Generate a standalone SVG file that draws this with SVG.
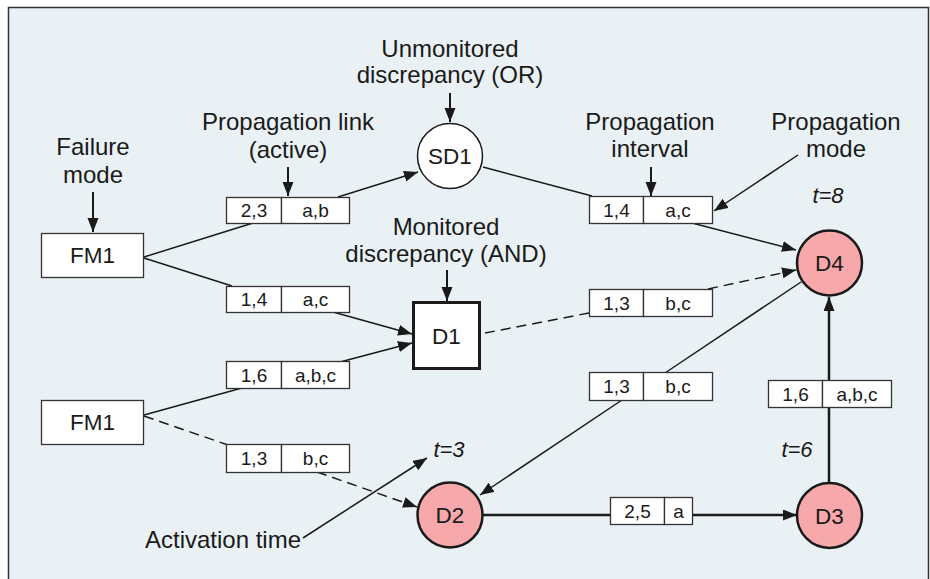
<svg xmlns="http://www.w3.org/2000/svg" width="930" height="579" viewBox="0 0 930 579">
<defs>
<marker id="ah" markerUnits="userSpaceOnUse" markerWidth="15" markerHeight="12" refX="14" refY="5.5" orient="auto">
<path d="M0,0 L14,5.5 L0,11 z" fill="#1a1a1a"/>
</marker>
<style>
text{font-family:"Liberation Sans",Arial,sans-serif;fill:#1a1a1a}
.lbl{font-size:24px;text-anchor:middle}
.nd{font-size:22.5px;text-anchor:middle}
.bx{font-size:19px;text-anchor:middle}
.t{font-size:22px;font-style:italic;text-anchor:middle}
.cell{fill:#fff;stroke:#333;stroke-width:1.3}
.ln{stroke:#1a1a1a;stroke-width:1.5;fill:none}
.thk{stroke:#1a1a1a;stroke-width:2.5;fill:none}
.dash{stroke-dasharray:10,6}
.ann{stroke:#1a1a1a;stroke-width:2;fill:none}
.pink{fill:#f6a8aa;stroke:#1a1a1a;stroke-width:2.5}
</style>
</defs>
<rect x="0" y="0" width="930" height="579" fill="#fff"/>
<rect x="8.5" y="7.5" width="920" height="620" fill="#e9f1f5" stroke="#333" stroke-width="1.5"/>

<g id="connectors">
<line class="ln" x1="144" y1="257" x2="253" y2="223"/>
<line class="ln" x1="338" y1="197" x2="418" y2="172" marker-end="url(#ah)"/>
<line class="ln" x1="144" y1="258" x2="232" y2="286"/>
<line class="ln" x1="333" y1="312" x2="412" y2="334" marker-end="url(#ah)"/>
<line class="ln" x1="340" y1="362" x2="412" y2="343" marker-end="url(#ah)"/>
<line class="ln" x1="144" y1="415" x2="242" y2="388"/>
<line class="ln dash" x1="144" y1="416" x2="228" y2="445"/>
<line class="ln dash" x1="317" y1="472" x2="417" y2="507" marker-end="url(#ah)"/>
<line class="ln" x1="483" y1="167" x2="592" y2="196"/>
<line class="ln" x1="692" y1="223" x2="796" y2="250" marker-end="url(#ah)"/>
<line class="ln dash" x1="485" y1="333" x2="589" y2="313"/>
<line class="ln dash" x1="708" y1="289" x2="796" y2="270" marker-end="url(#ah)"/>
<line class="ln" x1="801" y1="282" x2="665" y2="373"/>
<line class="ln" x1="622" y1="400" x2="480" y2="495" marker-end="url(#ah)"/>
<line class="thk" x1="483" y1="515" x2="610" y2="515"/>
<line class="thk" x1="692" y1="515" x2="797" y2="515" marker-end="url(#ah)"/>
<line class="thk" x1="829" y1="482" x2="829" y2="407"/>
<line class="thk" x1="829" y1="380" x2="829" y2="297" marker-end="url(#ah)"/>
</g>

<g id="annotations">
<text class="lbl" x="450" y="57">Unmonitored</text>
<text class="lbl" x="450" y="83">discrepancy (OR)</text>
<line class="ann" x1="450" y1="93" x2="450" y2="122" marker-end="url(#ah)"/>
<text class="lbl" x="288" y="130">Propagation link</text>
<text class="lbl" x="288" y="158">(active)</text>
<line class="ann" x1="288" y1="167" x2="288" y2="196" marker-end="url(#ah)"/>
<text class="lbl" x="93" y="155">Failure</text>
<text class="lbl" x="93" y="183">mode</text>
<line class="ann" x1="93" y1="192" x2="93" y2="232" marker-end="url(#ah)"/>
<text class="lbl" x="446" y="235">Monitored</text>
<text class="lbl" x="446" y="262">discrepancy (AND)</text>
<line class="ann" x1="447" y1="270" x2="447" y2="301" marker-end="url(#ah)"/>
<text class="lbl" x="650" y="130">Propagation</text>
<text class="lbl" x="650" y="157">interval</text>
<line class="ann" x1="651" y1="167" x2="651" y2="196" marker-end="url(#ah)"/>
<text class="lbl" x="836" y="130">Propagation</text>
<text class="lbl" x="836" y="157">mode</text>
<line class="ln" x1="798" y1="155" x2="714" y2="211" marker-end="url(#ah)"/>
<text class="lbl" x="223" y="548">Activation time</text>
<line class="ln" x1="303" y1="538" x2="427" y2="458" marker-end="url(#ah)"/>
<text class="t" x="828" y="203">t=8</text>
<text class="t" x="449" y="457">t=3</text>
<text class="t" x="797" y="457">t=6</text>
</g>

<g id="FM1a"><rect x="41.5" y="233.5" width="102" height="44" class="cell"/><text class="nd" x="92.5" y="263">FM1</text></g>
<g id="FM1b"><rect x="41.5" y="400.5" width="102" height="44" class="cell"/><text class="nd" x="92.5" y="430">FM1</text></g>
<g id="SD1"><circle cx="450" cy="156" r="32.5" fill="#fff" stroke="#1a1a1a" stroke-width="1.5"/><text class="nd" x="450" y="164">SD1</text></g>
<g id="D1"><rect x="413.5" y="302.5" width="66" height="66" fill="#fff" stroke="#1a1a1a" stroke-width="3"/><text class="nd" x="446.5" y="343.5">D1</text></g>
<g id="D4"><circle cx="829.5" cy="263" r="32.5" class="pink"/><text class="nd" x="829.5" y="271">D4</text></g>
<g id="D2"><circle cx="450" cy="515" r="32.5" class="pink"/><text class="nd" x="450" y="523">D2</text></g>
<g id="D3"><circle cx="829.5" cy="515.5" r="32.5" class="pink"/><text class="nd" x="829.5" y="523.5">D3</text></g>

<g id="L1"><rect class="cell" x="226.5" y="197.5" width="55" height="26"/><rect class="cell" x="281.5" y="197.5" width="68" height="26"/><text class="bx" x="254" y="217">2,3</text><text class="bx" x="315.5" y="217">a,b</text></g>
<g id="L2"><rect class="cell" x="226.5" y="286.5" width="55" height="26"/><rect class="cell" x="281.5" y="286.5" width="68" height="26"/><text class="bx" x="254" y="306">1,4</text><text class="bx" x="315.5" y="306">a,c</text></g>
<g id="L3"><rect class="cell" x="226.5" y="361.5" width="55" height="27"/><rect class="cell" x="281.5" y="361.5" width="68" height="27"/><text class="bx" x="254" y="381.5">1,6</text><text class="bx" x="315.5" y="381.5">a,b,c</text></g>
<g id="L4"><rect class="cell" x="226.5" y="444.5" width="55" height="28"/><rect class="cell" x="281.5" y="444.5" width="68" height="28"/><text class="bx" x="254" y="465">1,3</text><text class="bx" x="315.5" y="465">b,c</text></g>
<g id="L5"><rect class="cell" x="589.5" y="196.5" width="54" height="27"/><rect class="cell" x="643.5" y="196.5" width="69" height="27"/><text class="bx" x="616.5" y="216.5">1,4</text><text class="bx" x="678" y="216.5">a,c</text></g>
<g id="L6"><rect class="cell" x="589.5" y="289.5" width="54" height="27"/><rect class="cell" x="643.5" y="289.5" width="69" height="27"/><text class="bx" x="616.5" y="309.5">1,3</text><text class="bx" x="678" y="309.5">b,c</text></g>
<g id="L7"><rect class="cell" x="589.5" y="372.5" width="54" height="28"/><rect class="cell" x="643.5" y="372.5" width="69" height="28"/><text class="bx" x="616.5" y="393">1,3</text><text class="bx" x="678" y="393">b,c</text></g>
<g id="L8"><rect class="cell" x="768.5" y="380.5" width="54" height="27"/><rect class="cell" x="822.5" y="380.5" width="69" height="27"/><text class="bx" x="795.5" y="400.5">1,6</text><text class="bx" x="857" y="400.5">a,b,c</text></g>
<g id="L9"><rect class="cell" x="610.5" y="497.5" width="54" height="27"/><rect class="cell" x="664.5" y="497.5" width="28" height="27"/><text class="bx" x="637.5" y="517.5">2,5</text><text class="bx" x="678.5" y="517.5">a</text></g>
</svg>
